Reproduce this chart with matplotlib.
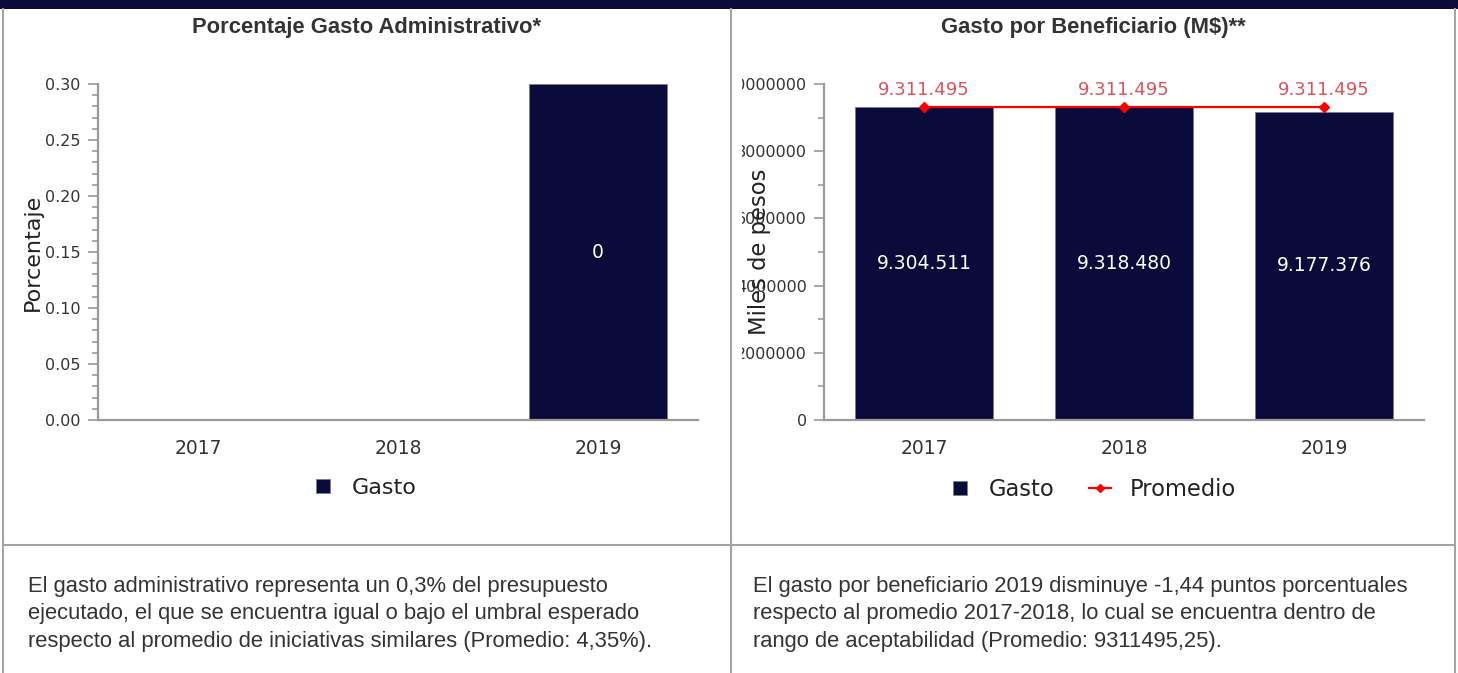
import matplotlib
matplotlib.use('Agg')
import matplotlib.pyplot as plt
from matplotlib.lines import Line2D
from matplotlib.patches import Rectangle
from matplotlib.ticker import MultipleLocator, FuncFormatter
from matplotlib.transforms import Bbox, TransformedBbox

# data
years = ['2017', '2018', '2019']
gasto_admin = [0.0, 0.0, 0.3]              # % gasto administrativo
gasto_benef = [9304511, 9318480, 9177376]  # gasto por beneficiario (M$)
promedio = [9311495.25, 9311495.25, 9311495.25]

title_left = 'Porcentaje Gasto Administrativo*'
title_right = 'Gasto por Beneficiario (M$)**'
text_left = ['El gasto administrativo representa un 0,3% del presupuesto',
             'ejecutado, el que se encuentra igual o bajo el umbral esperado',
             'respecto al promedio de iniciativas similares (Promedio: 4,35%).']
text_right = ['El gasto por beneficiario 2019 disminuye -1,44 puntos porcentuales',
              'respecto al promedio 2017-2018, lo cual se encuentra dentro de',
              'rango de aceptabilidad (Promedio: 9311495,25).']

NAVY = '#0b0b3b'
GRID = '#a3a3a3'
AXC = '#9a9a9a'
W, H = 1458, 673


def fx(x):
    return x / W


def fy(y):
    return 1 - y / H


def miles(v):
    return f'{v:,.0f}'.replace(',', '.')


fig = plt.figure(figsize=(W / 100, H / 100), dpi=100)

# ── table frame ──
fig.add_artist(Rectangle((0, fy(9)), 1, 9 / H, transform=fig.transFigure,
                         color=NAVY, lw=0))
for x in (3, 731, 1455):
    fig.add_artist(Line2D([fx(x), fx(x)], [fy(9), 0], transform=fig.transFigure,
                          color=GRID, lw=1.5))
fig.add_artist(Line2D([fx(3), fx(1455)], [fy(545), fy(545)],
                      transform=fig.transFigure, color=GRID, lw=1.5))

# titles
fig.text(fx(367), fy(27), title_left, ha='center', va='center', fontsize=15.8,
         fontweight='bold', family='Liberation Sans', color='#333333')
fig.text(fx(1093), fy(27), title_right, ha='center', va='center', fontsize=15.8,
         fontweight='bold', family='Liberation Sans', color='#333333')

# bottom comments
for i, (l, r) in enumerate(zip(text_left, text_right)):
    fig.text(fx(28), fy(592 + 27.5 * i), l, ha='left', va='baseline', fontsize=15.8,
             family='Liberation Sans', color='#333333')
    fig.text(fx(753), fy(592 + 27.5 * i), r, ha='left', va='baseline', fontsize=15.8,
             family='Liberation Sans', color='#333333')


def style(ax):
    for s in ('top', 'right'):
        ax.spines[s].set_visible(False)
    for s in ('left', 'bottom'):
        ax.spines[s].set_color(AXC)
        ax.spines[s].set_linewidth(1.6)
    ax.tick_params(axis='y', which='major', length=7.5, width=1.2, color=AXC,
                   labelsize=11.5, labelcolor='#333333', pad=5)
    ax.tick_params(axis='y', which='minor', length=4.5, width=1.2, color=AXC)
    ax.tick_params(axis='x', length=0, labelsize=13.5, labelcolor='#333333', pad=14)
    ax.set_xlim(-0.5, 2.5)
    ax.set_xticks(range(len(years)))
    ax.set_xticklabels(years)


# ── left: porcentaje gasto administrativo ──
ax1 = fig.add_axes([fx(98), fy(420), 600 / W, 336 / H])
style(ax1)
ax1.bar(range(len(years)), gasto_admin, width=0.69, color=NAVY,
        edgecolor='#7a7a9a', linewidth=0.6)
for i, v in enumerate(gasto_admin):
    if v > 0:
        ax1.text(i, v / 2, f'{v:.0f}', ha='center', va='center', color='white',
                 fontsize=13.5)
ax1.set_ylim(0, 0.30)
ax1.yaxis.set_major_locator(MultipleLocator(0.05))
ax1.yaxis.set_minor_locator(MultipleLocator(0.01))
ax1.yaxis.set_major_formatter(FuncFormatter(lambda v, p: f'{v:.2f}'))
ax1.set_ylabel('Porcentaje', fontsize=16, color='#222222', va='center')
ax1.yaxis.set_label_coords(-0.108, 0.5)

h_gasto = Line2D([], [], marker='s', ls='none', color=NAVY, markersize=10.5,
                 markeredgecolor='#7a7a9a', markeredgewidth=0.6)
fig.legend([h_gasto], ['Gasto'], loc='center', bbox_to_anchor=(fx(364), fy(488)),
           frameon=False, fontsize=16, handlelength=1.0, handletextpad=0.8,
           labelcolor='#222222')

# ── right: gasto por beneficiario ──
ax2 = fig.add_axes([fx(824), fy(420), 600 / W, 336 / H])
style(ax2)
ax2.bar(range(len(years)), gasto_benef, width=0.69, color=NAVY,
        edgecolor='#7a7a9a', linewidth=0.6)
for i, v in enumerate(gasto_benef):
    ax2.text(i, v / 2, miles(v), ha='center', va='center', color='white',
             fontsize=13.5)
ax2.plot(range(len(years)), promedio, color='#ff0000', lw=1.6, marker='D',
         markersize=5)
for i, v in enumerate(promedio):
    ax2.annotate(miles(v), xy=(i, v), xytext=(0, 12), textcoords='offset points',
                 ha='center', va='center', fontsize=13, color='#d9545c')
ax2.set_ylim(0, 10000000)
ax2.yaxis.set_major_locator(MultipleLocator(2000000))
ax2.yaxis.set_minor_locator(MultipleLocator(1000000))
ax2.yaxis.set_major_formatter(FuncFormatter(lambda v, p: f'{v:.0f}'))
ax2.set_ylabel('Miles de pesos', fontsize=16.3, color='#222222', va='center')
ax2.yaxis.set_label_coords(-0.107, 0.5)

# the tick labels are cut off at the left of the chart box
clip = TransformedBbox(Bbox([[fx(742), 0], [1, 1]]), fig.transFigure)
for lab in ax2.get_yticklabels():
    lab.set_clip_box(clip)
    lab.set_clip_on(True)

h_prom = Line2D([], [], color='#ff0000', lw=1.6, marker='D', markersize=4.5)
fig.legend([h_gasto, h_prom], ['Gasto', 'Promedio'], loc='center',
           bbox_to_anchor=(fx(1092), fy(489)), ncol=2, frameon=False,
           fontsize=16.3, handlelength=1.0, handletextpad=0.8,
           columnspacing=1.5, labelcolor='#222222')

fig.savefig('out.png', dpi=100)
